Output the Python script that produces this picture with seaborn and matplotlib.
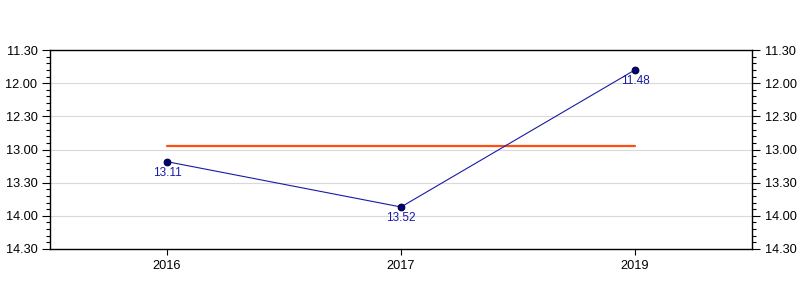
import matplotlib
matplotlib.use("Agg")
import matplotlib.pyplot as plt
import matplotlib.ticker as mticker
import seaborn as sns
import pandas as pd

years = ["2016", "2017", "2019"]
times = ["13.11", "13.52", "11.48"]
avg_time = "12.57"
y_min_label = "11.30"
y_max_label = "14.30"


def to_sec(s):
    m, sec = s.split(".")
    return int(m) * 60 + int(sec)


def fmt(v, pos=None):
    v = int(round(v))
    return f"{v // 60}.{v % 60:02d}"


df = pd.DataFrame({"year": years, "sec": [to_sec(t) for t in times]})

sns.set_theme(style="white")
plt.rcParams["font.family"] = ["Liberation Sans", "DejaVu Sans"]

fig = plt.figure(figsize=(8, 3), dpi=100)
ax = fig.add_axes([0.0625, 0.17, 0.8775, 0.6633])

sns.lineplot(data=df, x="year", y="sec", ax=ax, sort=False, color="#1a1aa6",
             linewidth=0.8, marker="o", markersize=4.8,
             markerfacecolor="#000080", markeredgecolor="#000033",
             markeredgewidth=0.8, zorder=3)

avg = to_sec(avg_time)
ax.plot([years[0], years[-1]], [avg, avg], color="#ff4f0f", linewidth=1.6, zorder=2)

for x, y, t in zip(df["year"], df["sec"], times):
    ax.annotate(t, (x, y), xytext=(0, -3.5), textcoords="offset points",
                ha="center", va="top", fontsize=8.5, color="#1a1aa6", zorder=4)

ax.set_xlim(-0.5, len(years) - 0.5)
ax.set_ylim(to_sec(y_max_label), to_sec(y_min_label))
ax.yaxis.set_major_locator(mticker.MultipleLocator(30))
ax.yaxis.set_minor_locator(mticker.MultipleLocator(6))
ax.yaxis.set_major_formatter(mticker.FuncFormatter(fmt))

ax.grid(axis="y", which="major", color="#d9d9d9", linewidth=0.8)
ax.grid(axis="x", visible=False)
ax.set_axisbelow(True)

for sp in ax.spines.values():
    sp.set_visible(True)
    sp.set_color("black")
    sp.set_linewidth(1.0)

ax.tick_params(axis="y", which="major", left=True, right=True, labelleft=True,
               labelright=True, length=6, width=0.8, color="black",
               labelsize=9.2, labelcolor="black", pad=3)
ax.tick_params(axis="y", which="minor", left=True, right=True, length=3,
               width=0.8, color="black")
ax.tick_params(axis="x", which="major", bottom=True, length=4, width=0.8,
               color="black", labelsize=9.2, labelcolor="black", pad=4)

ax.set_xlabel("")
ax.set_ylabel("")

fig.savefig("out.png", dpi=100)
